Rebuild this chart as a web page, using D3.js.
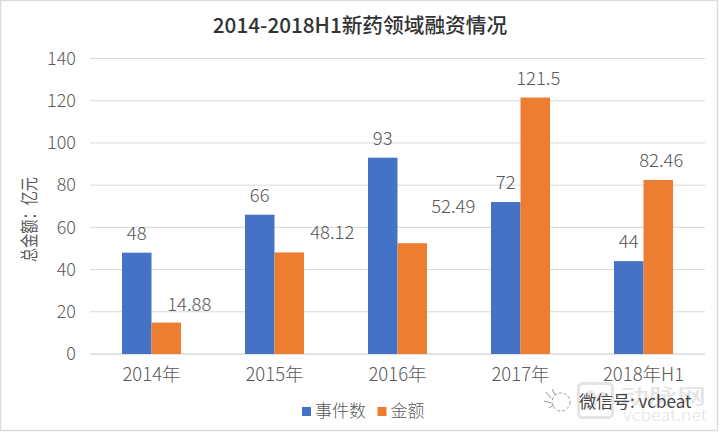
<!DOCTYPE html>
<html><head><meta charset="utf-8">
<script src="https://cdn.jsdelivr.net/npm/d3@7"></script>
<style>html,body{margin:0;padding:0;background:#fff}svg{display:block}
text{font-family:"Noto Sans CJK SC","Liberation Sans",sans-serif;font-weight:300}</style>
</head><body><svg id="c" width="720" height="432"></svg>
<script>
const categories=["2014年","2015年","2016年","2017年","2018年H1"];
const seriesNames=["事件数","金额"];
const events=[48,66,93,72,44];
const amounts=[14.88,48.12,52.49,121.5,82.46];
const amountLabels=["14.88","48.12","52.49","121.5","82.46"];
const yTicks=[0,20,40,60,80,100,120,140];
const colors=["#4472c4","#ed7d31"];
// label placement (pixels), kept apart from the values
const amountLabelDx=[23,43,41,3,3];
const amountLabelDy=[12,13,30,13,13];
const svg=d3.select("#c");
svg.append("rect").attr("x",.5).attr("y",.5).attr("width",717).attr("height",430).attr("fill","none").attr("stroke","#dcdcdc").attr("stroke-width",1.5);
const y=d3.scaleLinear().domain([0,140]).range([354,58.5]);
const x=d3.scaleBand().domain(categories).range([90,705]);
const inner=d3.scaleBand().domain([0,1]).range([32,91]);
svg.append("text").attr("x",360).attr("y",33).attr("text-anchor","middle").attr("font-size",20.7).style("font-weight",500).attr("fill","#333").text("2014-2018H1新药领域融资情况");
const gy=svg.append("g").attr("transform","translate(90,0)").call(d3.axisLeft(y).tickValues(yTicks).tickSize(0).tickPadding(14));
gy.select(".domain").remove();
gy.selectAll("text").attr("font-size",18).attr("fill","#595959");
svg.append("g").selectAll("line").data(yTicks).join("line").attr("x1",90).attr("x2",705).attr("y1",d=>y(d)).attr("y2",d=>y(d)).attr("stroke",d=>d?"#d9d9d9":"#c8c8c8");
const g=svg.selectAll(".cat").data(categories).join("g").attr("transform",d=>`translate(${x(d)},0)`);
[events,amounts].forEach((vals,s)=>{
 g.append("rect").attr("x",inner(s)).attr("width",inner.bandwidth()).attr("y",(d,i)=>y(vals[i])).attr("height",(d,i)=>y(0)-y(vals[i])).attr("fill",colors[s]);
 g.append("text").attr("x",(d,i)=>inner(s)+inner.bandwidth()/2+(s?amountLabelDx[i]:0)).attr("y",(d,i)=>y(vals[i])-13-(s?amountLabelDy[i]-13:0)).attr("text-anchor","middle").attr("font-size",18.5).attr("fill","#595959").text((d,i)=>s?amountLabels[i]:vals[i]);
});
const gx=svg.append("g").attr("transform","translate(0,354)").call(d3.axisBottom(x).tickSize(0).tickPadding(14));
gx.select(".domain").remove();
gx.selectAll("text").attr("font-size",18.5).attr("fill","#595959");
svg.append("text").attr("transform","translate(36,219.5) rotate(-90)").attr("text-anchor","middle").attr("font-size",18).style("font-weight",400).attr("textLength",85).attr("lengthAdjust","spacingAndGlyphs").attr("fill","#595959").text("总金额：亿元");
const lg=svg.selectAll(".lg").data(seriesNames).join("g").attr("transform",(d,i)=>`translate(${302+i*75.5},0)`);
lg.append("rect").attr("y",407).attr("width",9).attr("height",9).attr("fill",(d,i)=>colors[i]);
lg.append("text").attr("x",13).attr("y",417).attr("font-size",17).attr("fill","#595959").text(d=>d);
// watermark
svg.append("rect").attr("x",578.5).attr("y",383.5).attr("width",34).attr("height",34).attr("rx",4).attr("fill","none").attr("stroke","#e4e4e4").attr("stroke-width",3);
svg.append("path").attr("d","M586 410 L586 394 Q595 388 595 400 L595 410 M595 400 Q604 388 604 396 L604 410").attr("fill","none").attr("stroke","#e8e8e8").attr("stroke-width",3);
svg.append("text").attr("x",620).attr("y",404).attr("font-size",20).style("font-weight",500).attr("fill","#e4e4e4").attr("textLength",86).attr("lengthAdjust","spacingAndGlyphs").text("动脉网");
svg.append("text").attr("x",623).attr("y",421).attr("font-size",16).attr("fill","#e4e4e4").attr("textLength",84).attr("lengthAdjust","spacingAndGlyphs").text("vcbeat.net");
// hand-drawn face beside the account name
svg.append("circle").attr("cx",561).attr("cy",402).attr("r",9).attr("fill","none").attr("stroke","#999").attr("stroke-dasharray","3 2").attr("stroke-width",1);
svg.append("path").attr("d","M546 392 L551 398 M552 389 L555 395 M544 401 L551 403 M549 408 L554 405").attr("fill","none").attr("stroke","#999").attr("stroke-width",1);
svg.append("text").attr("x",579).attr("y",408).attr("font-size",17).style("font-weight",400).attr("fill","#444").text("微信号: vcbeat");
</script></body></html>
